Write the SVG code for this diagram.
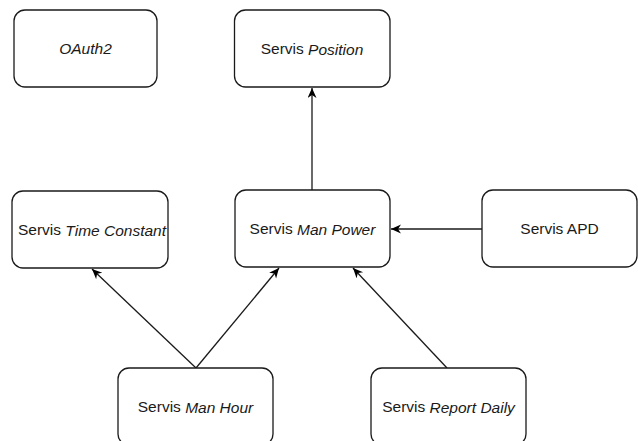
<svg xmlns="http://www.w3.org/2000/svg" width="638" height="441" viewBox="0 0 638 441">
  <style>
    .box { fill: #ffffff; stroke: #1a1a1a; stroke-width: 1.3; }
    .lbl { font-family: "Liberation Sans", Arial, Helvetica, sans-serif; font-size: 15.5px; fill: #1a1a1a; text-anchor: middle; dominant-baseline: central; }
    .it { font-style: italic; }
    .edge { fill: none; stroke: #1a1a1a; stroke-width: 1.3; }
  </style>
  <defs>
    <marker id="arrow" markerUnits="userSpaceOnUse" markerWidth="12" markerHeight="10" refX="10" refY="4.5" orient="auto">
      <path d="M0,0 L10,4.5 L0,9 L3,4.5 Z" fill="#000000"/>
    </marker>
  </defs>
  <rect width="638" height="441" fill="#ffffff"/>

  <g id="connectors">
    <line class="edge" x1="312" y1="190" x2="312" y2="88" marker-end="url(#arrow)"/>
    <line class="edge" x1="482" y1="229" x2="391" y2="229" marker-end="url(#arrow)"/>
    <line class="edge" x1="196" y1="368" x2="92" y2="269" marker-end="url(#arrow)"/>
    <line class="edge" x1="196" y1="368" x2="279" y2="268" marker-end="url(#arrow)"/>
    <line class="edge" x1="447" y1="368" x2="353" y2="268" marker-end="url(#arrow)"/>
  </g>

  <g id="oauth2">
    <rect class="box" x="14" y="10" width="143" height="77" rx="11"/>
    <text class="lbl it" x="85.5" y="48.5">OAuth2</text>
  </g>
  <g id="servis-position">
    <rect class="box" x="234.5" y="10" width="155.5" height="77" rx="11"/>
    <text class="lbl" x="312" y="48.5">Servis <tspan class="it">Position</tspan></text>
  </g>
  <g id="servis-time-constant">
    <rect class="box" x="12" y="191" width="156" height="77" rx="11"/>
    <text class="lbl" x="92" y="229.5">Servis <tspan class="it">Time Constant</tspan></text>
  </g>
  <g id="servis-man-power">
    <rect class="box" x="235" y="190" width="155" height="77" rx="11"/>
    <text class="lbl" x="312.5" y="228.5">Servis <tspan class="it">Man Power</tspan></text>
  </g>
  <g id="servis-apd">
    <rect class="box" x="482" y="190" width="155" height="77" rx="11"/>
    <text class="lbl" x="559.5" y="228.5">Servis APD</text>
  </g>
  <g id="servis-man-hour">
    <rect class="box" x="118" y="368" width="155" height="77" rx="11"/>
    <text class="lbl" x="195.5" y="406.5">Servis <tspan class="it">Man Hour</tspan></text>
  </g>
  <g id="servis-report-daily">
    <rect class="box" x="371" y="368" width="155" height="77" rx="11"/>
    <text class="lbl" x="448.5" y="406.5">Servis <tspan class="it">Report Daily</tspan></text>
  </g>
</svg>
